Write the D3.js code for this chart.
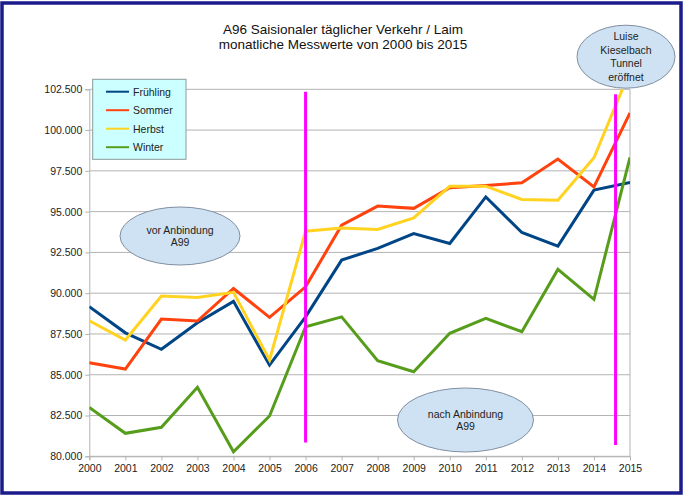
<!DOCTYPE html>
<html>
<head>
<meta charset="utf-8">
<script src="https://cdn.jsdelivr.net/npm/d3@7"></script>
<style>
  html, body { margin: 0; padding: 0; background: #fff; }
  svg { display: block; font-family: "Liberation Sans", Arial, sans-serif; }
</style>
</head>
<body>
<svg id="chart" width="686" height="497"></svg>
<script>
// ---- data ----
const years = [2000, 2001, 2002, 2003, 2004, 2005, 2006, 2007, 2008, 2009, 2010, 2011, 2012, 2013, 2014, 2015];
const seriesNames = ["Frühling", "Sommer", "Herbst", "Winter"];
const fruehling = [89170, 87570, 86560, 88190, 89500, 85590, 88550, 92030, 92750, 93660, 93050, 95900, 93720, 92890, 96320, 96790];
const sommer    = [85740, 85350, 88410, 88290, 90290, 88520, 90390, 94170, 95340, 95200, 96460, 96600, 96770, 98220, 96520, 101050];
const herbst    = [88310, 87130, 89820, 89740, 90050, 85900, 93800, 94000, 93910, 94620, 96560, 96560, 95750, 95700, 98300, 103630];
const winter    = [83000, 81410, 81780, 84230, 80280, 82470, 87940, 88550, 85860, 85180, 87540, 88460, 87640, 91460, 89620, 98320];
const yTicks = [80000, 82500, 85000, 87500, 90000, 92500, 95000, 97500, 100000, 102500];
const titleLines = ["A96 Saisionaler täglicher Verkehr / Laim", "monatliche Messwerte von 2000 bis 2015"];
const markerYears = [2006, 2014.6];
const markerFrom  = [80850, 80700];
const markerTo    = [102350, 102200];
const noteTexts = [["vor Anbindung", "A99"], ["nach Anbindung", "A99"], ["Luise", "Kieselbach", "Tunnel", "eröffnet"]];

// ---- styles / layout ----
const colors = ["#004586", "#ff420e", "#ffd320", "#579d1c"];
const allSeries = [fruehling, sommer, herbst, winter];
const plot = { left: 89.3, right: 630, top: 89.3, bottom: 456.3 };

const svg = d3.select("#chart");
const loc = d3.formatLocale({ decimal: ",", thousands: ".", grouping: [3], currency: ["", "€"] });
const fmt = loc.format(",.0f");

const x = d3.scaleLinear().domain([2000, 2015]).range([plot.left, plot.right]);
const y = d3.scaleLinear().domain([80000, 102500]).range([plot.bottom, plot.top]);

// outer frame
svg.append("rect").attr("x", 2).attr("y", 3).attr("width", 679).attr("height", 490)
  .attr("fill", "#fff").attr("stroke", "#1b1b8c").attr("stroke-width", 3.5);

// title
svg.selectAll("text.title").data(titleLines).join("text")
  .attr("class", "title")
  .attr("x", 343).attr("y", (d, i) => 34 + i * 15.3)
  .attr("text-anchor", "middle")
  .attr("font-size", "13.5px").attr("fill", "#111")
  .text(d => d);

// gridlines
svg.append("g").selectAll("line").data(yTicks).join("line")
  .attr("x1", plot.left).attr("x2", plot.right)
  .attr("y1", d => y(d)).attr("y2", d => y(d))
  .attr("stroke", "#b3b3b3").attr("stroke-width", 1);

// axes
const yAxis = svg.append("g").attr("transform", `translate(${plot.left},0)`)
  .call(d3.axisLeft(y).tickValues(yTicks).tickFormat(fmt).tickSize(4).tickPadding(3));
const xAxis = svg.append("g").attr("transform", `translate(0,${plot.bottom})`)
  .call(d3.axisBottom(x).tickValues(years).tickFormat(d3.format("d")).tickSize(4).tickPadding(4));
[yAxis, xAxis].forEach(a => {
  a.select(".domain").attr("stroke", "#b3b3b3");
  a.selectAll(".tick line").attr("stroke", "#b3b3b3");
  a.selectAll(".tick text").attr("font-size", "10.5px").attr("fill", "#222")
    .attr("font-family", "'Liberation Sans', Arial, sans-serif");
});
// right border of plot
svg.append("line").attr("x1", plot.right).attr("x2", plot.right)
  .attr("y1", plot.top).attr("y2", plot.bottom).attr("stroke", "#b3b3b3");

// clip
svg.append("clipPath").attr("id", "clip").append("rect")
  .attr("x", plot.left).attr("y", plot.top)
  .attr("width", plot.right - plot.left).attr("height", plot.bottom - plot.top);

const line = d3.line().x((d, i) => x(years[i])).y(d => y(d));
svg.append("g").attr("clip-path", "url(#clip)")
  .selectAll("path").data(allSeries).join("path")
  .attr("d", line)
  .attr("fill", "none")
  .attr("stroke", (d, i) => colors[i])
  .attr("stroke-width", 3)
  .attr("stroke-linejoin", "miter");

// magenta marker lines
svg.append("g").selectAll("line").data(markerYears).join("line")
  .attr("x1", d => x(d)).attr("x2", d => x(d))
  .attr("y1", (d, i) => y(markerTo[i])).attr("y2", (d, i) => y(markerFrom[i]))
  .attr("stroke", "#ff00ff").attr("stroke-width", 3);

// legend
const lg = svg.append("g");
lg.append("rect").attr("x", 92.7).attr("y", 79.3).attr("width", 93.3).attr("height", 80)
  .attr("fill", "#ccffff").attr("stroke", "#8a9a9a").attr("stroke-width", 1);
seriesNames.forEach((n, i) => {
  const yy = 91.7 + i * 18.5;
  lg.append("line").attr("x1", 106).attr("x2", 129).attr("y1", yy).attr("y2", yy)
    .attr("stroke", colors[i]).attr("stroke-width", 2);
  lg.append("text").attr("x", 133).attr("y", yy + 3.8)
    .attr("font-size", "10.5px").attr("fill", "#222").text(n);
});

// annotation ellipses
const notes = [
  { cx: 180, cy: 236, rx: 60, ry: 29 },
  { cx: 465.5, cy: 420, rx: 68, ry: 32 },
  { cx: 626, cy: 56.7, rx: 49, ry: 31.5 }
];
notes.forEach((n, k) => {
  const g = svg.append("g");
  g.append("ellipse").attr("cx", n.cx).attr("cy", n.cy).attr("rx", n.rx).attr("ry", n.ry)
    .attr("fill", "#cfe2f3").attr("stroke", "#7f8fa0").attr("stroke-width", 1);
  const lines = noteTexts[k];
  const lh = k === 2 ? 13.5 : 12.3;
  const y0 = n.cy - (lines.length - 1) * lh / 2;
  g.selectAll("text").data(lines).join("text")
    .attr("x", n.cx).attr("y", (d, i) => y0 + i * lh + 3.8)
    .attr("text-anchor", "middle").attr("font-size", "10.5px").attr("fill", "#222")
    .text(d => d);
});
</script>
</body>
</html>
